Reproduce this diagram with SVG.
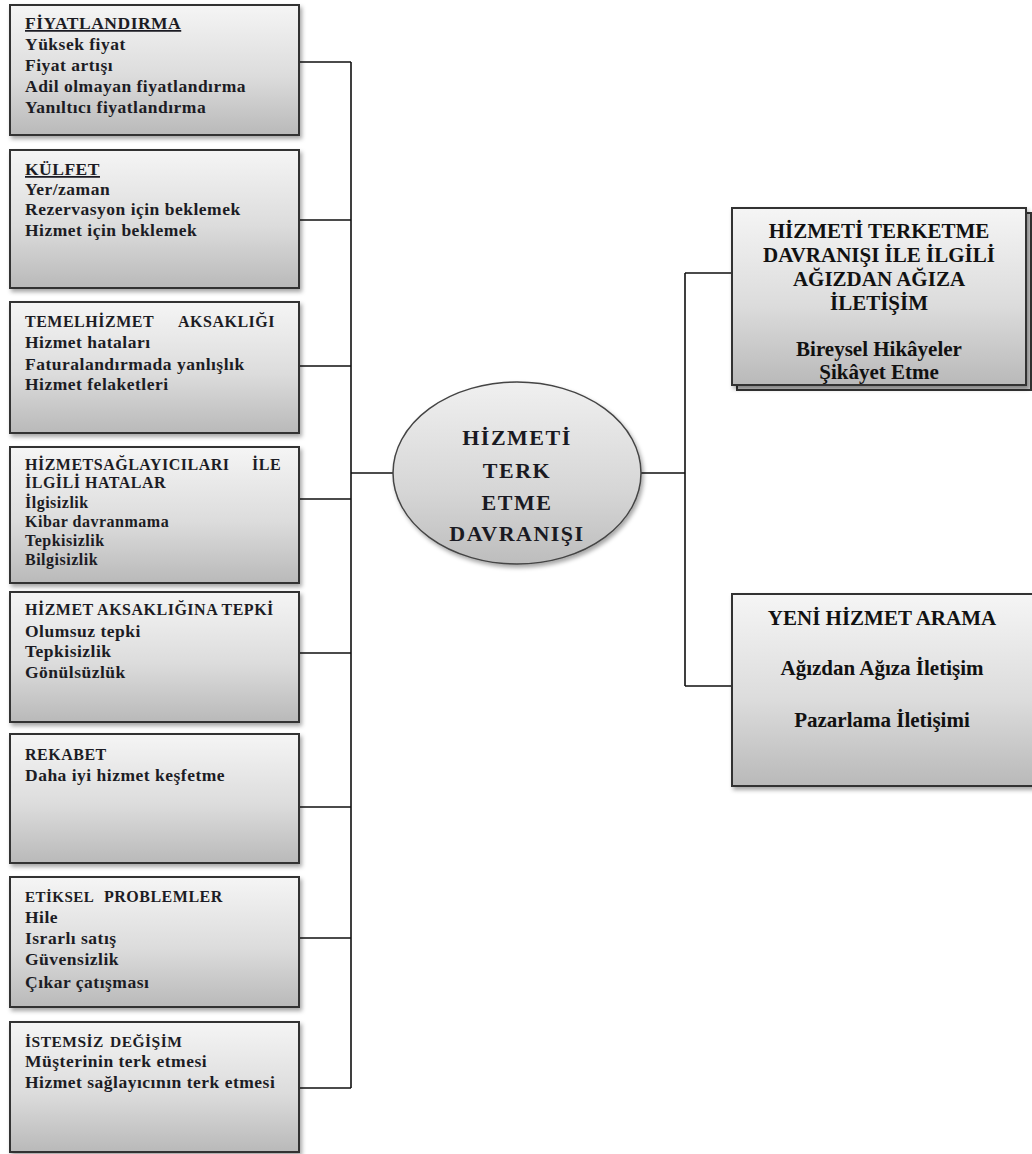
<svg xmlns="http://www.w3.org/2000/svg" width="1032" height="1154" viewBox="0 0 1032 1154">
  <defs>
    <linearGradient id="boxFill" x1="0" y1="0" x2="0" y2="1">
      <stop offset="0" stop-color="#f5f5f5"/>
      <stop offset="0.55" stop-color="#dcdcdc"/>
      <stop offset="1" stop-color="#b9b9b9"/>
    </linearGradient>
    <linearGradient id="ovalFill" x1="0" y1="0" x2="0" y2="1">
      <stop offset="0" stop-color="#f0f0f0"/>
      <stop offset="0.6" stop-color="#d6d6d6"/>
      <stop offset="1" stop-color="#bdbdbd"/>
    </linearGradient>
    <filter id="shadow" x="-5%" y="-5%" width="115%" height="120%">
      <feDropShadow dx="2" dy="3" stdDeviation="2" flood-color="#000" flood-opacity="0.35"/>
    </filter>
  </defs>
  <style>
    .box { fill: url(#boxFill); stroke: #333; stroke-width: 2; filter: url(#shadow); }
    .oval { fill: url(#ovalFill); stroke: #444; stroke-width: 1.5; filter: url(#shadow); }
    .wire { fill: none; stroke: #111; stroke-width: 1.6; }
    .t { font-family: "Liberation Serif", "Times New Roman", serif; font-weight: bold; fill: #1c1c24; letter-spacing: 0.5px; }
    .l { font-size: 17.5px; }
    .s { font-size: 16px; }
    .c { font-family: "Liberation Serif", "Times New Roman", serif; font-weight: bold; fill: #111; text-anchor: middle; }
    .core { font-size: 22px; letter-spacing: 1.5px; fill: #1a1a22; }
    .out { font-size: 21px; }
  </style>

  <rect width="1032" height="1154" fill="#fff"/>

  <!-- connectors -->
  <g id="connectors">
    <path class="wire" d="M299 62 H351 M299 220 H351 M299 366 H351 M299 499 H351 M299 653 H351 M299 807 H351 M299 938 H351 M299 1088 H351 M351 62 V1088"/>
    <path class="wire" d="M351 473 H393"/>
    <path class="wire" d="M641 473 H685 M685 273 V686 M685 273 H732 M685 686 H732"/>
  </g>

  <!-- cause boxes -->
  <g id="fiyatlandirma">
    <rect class="box" x="10" y="5" width="289" height="130"/>
    <text class="t l" x="25" y="29" text-decoration="underline">FİYATLANDIRMA</text>
    <text class="t l" x="25" y="50">Yüksek fiyat</text>
    <text class="t l" x="25" y="71">Fiyat artışı</text>
    <text class="t l" x="25" y="92">Adil olmayan fiyatlandırma</text>
    <text class="t l" x="25" y="113">Yanıltıcı fiyatlandırma</text>
  </g>

  <g id="kulfet">
    <rect class="box" x="10" y="150" width="289" height="138"/>
    <text class="t l" x="25" y="175" text-decoration="underline">KÜLFET</text>
    <text class="t l" x="25" y="195">Yer/zaman</text>
    <text class="t l" x="25" y="215">Rezervasyon için beklemek</text>
    <text class="t l" x="25" y="236">Hizmet için beklemek</text>
  </g>

  <g id="temel-hizmet">
    <rect class="box" x="10" y="302" width="289" height="131"/>
    <text class="t s" x="25" y="327">TEMELHİZMET</text>
    <text class="t s" x="178" y="327">AKSAKLIĞI</text>
    <text class="t l" x="25" y="348">Hizmet hataları</text>
    <text class="t l" x="25" y="370">Faturalandırmada yanlışlık</text>
    <text class="t l" x="25" y="390">Hizmet felaketleri</text>
  </g>

  <g id="saglayici-hatalari">
    <rect class="box" x="10" y="447" width="289" height="136"/>
    <text class="t s" x="25" y="470">HİZMETSAĞLAYICILARI</text>
    <text class="t s" x="252" y="470">İLE</text>
    <text class="t s" x="25" y="488">İLGİLİ HATALAR</text>
    <text class="t s" x="25" y="508">İlgisizlik</text>
    <text class="t s" x="25" y="527">Kibar davranmama</text>
    <text class="t s" x="25" y="546">Tepkisizlik</text>
    <text class="t s" x="25" y="565">Bilgisizlik</text>
  </g>

  <g id="aksakliga-tepki">
    <rect class="box" x="10" y="592" width="289" height="130"/>
    <text class="t s" x="25" y="615">HİZMET AKSAKLIĞINA TEPKİ</text>
    <text class="t l" x="25" y="637">Olumsuz tepki</text>
    <text class="t l" x="25" y="657">Tepkisizlik</text>
    <text class="t l" x="25" y="678">Gönülsüzlük</text>
  </g>

  <g id="rekabet">
    <rect class="box" x="10" y="734" width="289" height="129"/>
    <text class="t s" x="25" y="760">REKABET</text>
    <text class="t l" x="25" y="781">Daha iyi hizmet keşfetme</text>
  </g>

  <g id="etiksel">
    <rect class="box" x="10" y="877" width="289" height="130"/>
    <text class="t" font-size="15" x="25" y="902" letter-spacing="0">ETİKSEL</text>
    <text class="t s" x="104" y="902" letter-spacing="1">PROBLEMLER</text>
    <text class="t l" x="25" y="923">Hile</text>
    <text class="t l" x="25" y="944">Israrlı satış</text>
    <text class="t l" x="25" y="965">Güvensizlik</text>
    <text class="t l" x="25" y="988">Çıkar çatışması</text>
  </g>

  <g id="istemsiz">
    <rect class="box" x="10" y="1022" width="289" height="130"/>
    <text class="t" font-size="15.5" x="25" y="1047">İSTEMSİZ</text>
    <text class="t" font-size="15.5" x="110" y="1047">DEĞİŞİM</text>
    <text class="t l" x="25" y="1067">Müşterinin terk etmesi</text>
    <text class="t l" x="25" y="1088">Hizmet sağlayıcının terk etmesi</text>
  </g>

  <!-- central behaviour -->
  <g id="merkez">
    <ellipse class="oval" cx="517" cy="473" rx="124" ry="91"/>
    <text class="c core" x="517" y="445">HİZMETİ</text>
    <text class="c core" x="517" y="478">TERK</text>
    <text class="c core" x="517" y="510">ETME</text>
    <text class="c core" x="517" y="541">DAVRANIŞI</text>
  </g>

  <!-- outcome boxes -->
  <g id="agizdan-agiza">
    <rect x="737" y="213" width="294" height="177" fill="#c8c8c8" stroke="#333" stroke-width="2"/>
    <rect class="box" x="732" y="208" width="294" height="177"/>
    <text class="c out" x="879" y="238">HİZMETİ TERKETME</text>
    <text class="c out" x="879" y="262">DAVRANIŞI İLE İLGİLİ</text>
    <text class="c out" x="879" y="286">AĞIZDAN AĞIZA</text>
    <text class="c out" x="879" y="310">İLETİŞİM</text>
    <text class="c out" x="879" y="356">Bireysel Hikâyeler</text>
    <text class="c out" x="879" y="379">Şikâyet Etme</text>
  </g>

  <g id="yeni-hizmet">
    <rect class="box" x="732" y="594" width="310" height="192"/>
    <text class="c out" x="882" y="625">YENİ HİZMET ARAMA</text>
    <text class="c out" x="882" y="675">Ağızdan Ağıza İletişim</text>
    <text class="c out" x="882" y="727">Pazarlama İletişimi</text>
  </g>
</svg>
